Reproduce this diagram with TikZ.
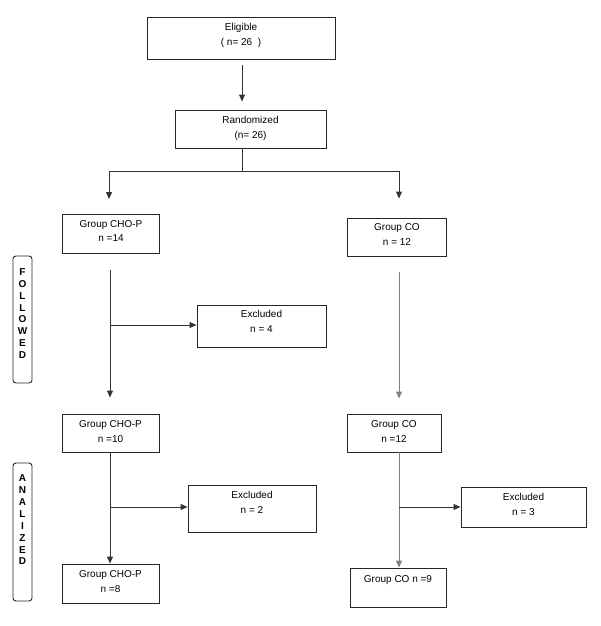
\documentclass[tikz,border=0pt]{standalone}
\usepackage{fontspec}
\setmainfont{Liberation Sans}
\usetikzlibrary{arrows.meta}
\newcommand{\bxt}[4]{\parbox[c][#2pt][t]{#1pt}{\centering\fontsize{10}{14.5}\selectfont\rule{0pt}{#3pt}#4}}
\newcommand{\sidet}[4]{\parbox[c][#2pt][t]{#1pt}{\centering\fontsize{10}{11.9}\selectfont\bfseries\rule{0pt}{#3pt}#4}}
\begin{document}
\begin{tikzpicture}[x=1pt,y=-1pt,
  box/.style={draw=black!85, line width=0.9pt, inner sep=0pt},
  side/.style={draw=black!85, line width=0.9pt, inner sep=0pt, rounded corners=3pt},
  ln/.style={draw=black!80, line width=0.9pt},
  lg/.style={draw=black!50, line width=1pt},
  arr/.style={-{Triangle[length=7pt,width=6pt]}}]
\useasboundingbox (0,0) rectangle (600,626);
% boxes
\node[box] (elig) at (241,38) {\bxt{188}{42}{13.6}{Eligible\\( n= 26 \ )}};
\node[box] (rand) at (250.5,129) {\bxt{151}{38}{13.6}{Randomized\\(n= 26)}};
\node[box] (g1a) at (111,234) {\bxt{97}{39}{12.6}{Group CHO-P\\n =14}};
\node[box] (g1b) at (397,237) {\bxt{99}{38}{12.6}{Group CO\\n = 12}};
\node[box] (ex1) at (261.5,326) {\bxt{129}{42}{12.6}{Excluded\\n = 4}};
\node[box] (g2a) at (110.5,433) {\bxt{97}{38}{13.6}{Group CHO-P\\n =10}};
\node[box] (g2b) at (394,433) {\bxt{94}{38}{13.6}{Group CO\\n =12}};
\node[box] (ex2) at (252,508.5) {\bxt{128}{47}{13.6}{Excluded\\n = 2}};
\node[box] (ex3) at (523.5,507) {\bxt{125}{40}{13.6}{Excluded\\n = 3}};
\node[box] (g3a) at (110.5,583.5) {\bxt{97}{39}{13.6}{Group CHO-P\\n =8}};
\node[box] (g3b) at (398,587.5) {\bxt{96}{39}{14.6}{Group CO n =9}};
% side labels
\node[side] (fol) at (22.5,319.5) {\sidet{19}{127}{19.3}{F\\O\\L\\L\\O\\W\\E\\D}};
\node[side] (ana) at (22.5,532) {\sidet{19}{138}{18.6}{A\\N\\A\\L\\I\\Z\\E\\D}};
% junction coordinates
\coordinate (s) at (242,171);
\coordinate (sL) at (109,171);
\coordinate (sR) at (399,171);
\coordinate (xL) at (110,0);
\coordinate (xR) at (399,0);
\coordinate (b1) at (110,325);
\coordinate (b2) at (110,507);
\coordinate (b3) at (399,507);
% connectors
\draw[ln, arr, shorten <=6pt, shorten >=8pt] (elig.south -| s) -- (rand.north -| s);
\draw[ln] (rand.south -| s) -- (s);
\draw[ln] (sL) -- (sR);
\draw[ln, arr, shorten >=15pt] (sL) -- (sL |- g1a.north);
\draw[ln, arr, shorten >=19pt] (sR) -- (sR |- g1b.north);
\draw[ln, arr, shorten <=16pt, shorten >=16pt] (g1a.south -| xL) -- (g2a.north -| xL);
\draw[ln, arr] (b1) -- (b1 -| ex1.west);
\draw[lg, arr, shorten <=16pt, shorten >=15pt] (g1b.south -| xR) -- (g2b.north -| xR);
\draw[ln, arr] (g2a.south -| xL) -- (g3a.north -| xL);
\draw[ln, arr] (b2) -- (b2 -| ex2.west);
\draw[lg, arr] (g2b.south -| xR) -- (g3b.north -| xR);
\draw[ln, arr] (b3) -- (b3 -| ex3.west);
\end{tikzpicture}
\end{document}
